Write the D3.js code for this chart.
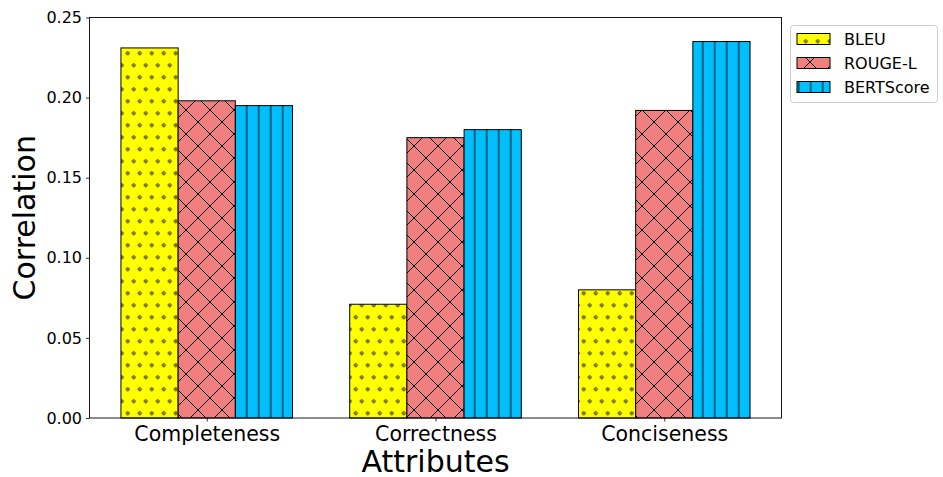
<!DOCTYPE html>
<html>
<head>
<meta charset="utf-8">
<script src="https://cdn.jsdelivr.net/npm/d3@7/dist/d3.min.js"></script>
<style>
  html, body { margin: 0; padding: 0; background: #fff; }
  svg { display: block; font-family: "DejaVu Sans", sans-serif; }
</style>
</head>
<body>
<svg id="chart" width="943" height="477"></svg>
<script>
// Correlation of automatic metrics with human judgements, per attribute
const categories = ["Completeness", "Correctness", "Conciseness"];
const seriesNames = ["BLEU", "ROUGE-L", "BERTScore"];
const bleu = [0.231, 0.071, 0.080];
const rougeL = [0.198, 0.175, 0.192];
const bertScore = [0.195, 0.180, 0.235];
const yTicks = [0.00, 0.05, 0.10, 0.15, 0.20, 0.25];

const seriesValues = [bleu, rougeL, bertScore];
const fills = ["#ffff00", "#f08080", "#00bfff"];
const patternIds = ["hatch-dots", "hatch-cross", "hatch-vert"];

const W = 943, H = 477;
const margin = { left: 89.5, right: 161.5, top: 17.5, bottom: 59 };
const plotW = W - margin.left - margin.right;
const plotH = H - margin.top - margin.bottom;
const barW = 0.25;

const svg = d3.select("#chart");
const defs = svg.append("defs");

// Hatch patterns, anchored in page space so they line up across bars
function dotsPattern(id, fill) {
  const p = defs.append("pattern").attr("id", id)
    .attr("patternUnits", "userSpaceOnUse")
    .attr("x", -1.3).attr("y", 41.3).attr("width", 12).attr("height", 24);
  p.append("rect").attr("width", 12).attr("height", 24).attr("fill", fill);
  [[3, 0], [3, 24], [9, 12]].forEach(([cx, cy]) => {
    p.append("circle").attr("cx", cx).attr("cy", cy).attr("r", 1.4)
      .attr("fill", "none").attr("stroke", "#000").attr("stroke-width", 0.9);
  });
}
function crossPattern(id, fill) {
  const p = defs.append("pattern").attr("id", id)
    .attr("patternUnits", "userSpaceOnUse")
    .attr("x", 414 - 12).attr("y", 314 - 12).attr("width", 24).attr("height", 24);
  p.append("rect").attr("width", 24).attr("height", 24).attr("fill", fill);
  const lines = [[-12, 36, 36, -12], [-12, 12, 12, -12], [12, 36, 36, 12],
                 [-12, -12, 36, 36], [-12, 12, 12, 36], [12, -12, 36, 12]];
  lines.forEach(([x1, y1, x2, y2]) => {
    p.append("line").attr("x1", x1).attr("y1", y1).attr("x2", x2).attr("y2", y2)
      .attr("stroke", "#000").attr("stroke-width", 1);
  });
}
function vertPattern(id, fill) {
  const p = defs.append("pattern").attr("id", id)
    .attr("patternUnits", "userSpaceOnUse")
    .attr("x", 6.7 - 6).attr("y", 0).attr("width", 12).attr("height", 12);
  p.append("rect").attr("width", 12).attr("height", 12).attr("fill", fill);
  p.append("line").attr("x1", 6).attr("y1", -1).attr("x2", 6).attr("y2", 13)
    .attr("stroke", "#000").attr("stroke-width", 1);
}
dotsPattern(patternIds[0], fills[0]);
crossPattern(patternIds[1], fills[1]);
vertPattern(patternIds[2], fills[2]);

const x = d3.scaleLinear()
  .domain([-0.5125, 2.5125])
  .range([margin.left, margin.left + plotW]);
const y = d3.scaleLinear()
  .domain([0, 0.25])
  .range([margin.top + plotH, margin.top]);

// Bars
seriesValues.forEach((vals, s) => {
  svg.append("g").selectAll("rect")
    .data(vals)
    .join("rect")
    .attr("x", (d, i) => x(i + (s - 1) * barW - barW / 2))
    .attr("width", x(barW) - x(0))
    .attr("y", d => y(d))
    .attr("height", d => y(0) - y(d))
    .attr("fill", `url(#${patternIds[s]})`)
    .attr("stroke", "#000")
    .attr("stroke-width", 1);
});

// Axes
const xAxis = d3.axisBottom(x)
  .tickValues([0, 1, 2])
  .tickFormat(i => categories[i])
  .tickSize(3.5).tickSizeOuter(0).tickPadding(4);
const yAxis = d3.axisLeft(y)
  .tickValues(yTicks)
  .tickFormat(d3.format(".2f"))
  .tickSize(3.5).tickSizeOuter(0).tickPadding(4);

const gx = svg.append("g").attr("transform", `translate(0,${margin.top + plotH})`).call(xAxis);
gx.select(".domain").remove();
gx.selectAll("text").attr("font-size", 20.5).attr("fill", "#000")
  .attr("font-family", "DejaVu Sans").attr("dy", "0.75em");
gx.selectAll("line").attr("stroke", "#000").attr("stroke-width", 0.8);

const gy = svg.append("g").attr("transform", `translate(${margin.left},0)`).call(yAxis);
gy.select(".domain").remove();
gy.selectAll("text").attr("font-size", 16).attr("fill", "#000")
  .attr("font-family", "DejaVu Sans");
gy.selectAll("line").attr("stroke", "#000").attr("stroke-width", 0.8);

// Frame
svg.append("rect")
  .attr("x", margin.left).attr("y", margin.top)
  .attr("width", plotW).attr("height", plotH)
  .attr("fill", "none").attr("stroke", "#000").attr("stroke-width", 0.9);

// Axis titles
svg.append("text")
  .attr("x", x(1)).attr("y", 472)
  .attr("text-anchor", "middle")
  .attr("font-size", 30)
  .text("Attributes");
svg.append("text")
  .attr("transform", `translate(35,${margin.top + plotH / 2}) rotate(-90)`)
  .attr("text-anchor", "middle")
  .attr("font-size", 30)
  .text("Correlation");

// Legend
const lg = svg.append("g");
lg.append("rect")
  .attr("x", 790.5).attr("y", 25.5).attr("width", 147).attr("height", 77)
  .attr("rx", 3).attr("fill", "#fff").attr("fill-opacity", 0.8)
  .attr("stroke", "#cccccc").attr("stroke-width", 1);
seriesNames.forEach((name, s) => {
  const cy = 39 + s * 24;
  lg.append("rect")
    .attr("x", 797).attr("y", cy - 5.5).attr("width", 33).attr("height", 11)
    .attr("fill", `url(#${patternIds[s]})`)
    .attr("stroke", "#000").attr("stroke-width", 1);
  lg.append("text")
    .attr("x", 844).attr("y", cy).attr("dy", "0.36em")
    .attr("font-size", 16)
    .text(name);
});
</script>
</body>
</html>
